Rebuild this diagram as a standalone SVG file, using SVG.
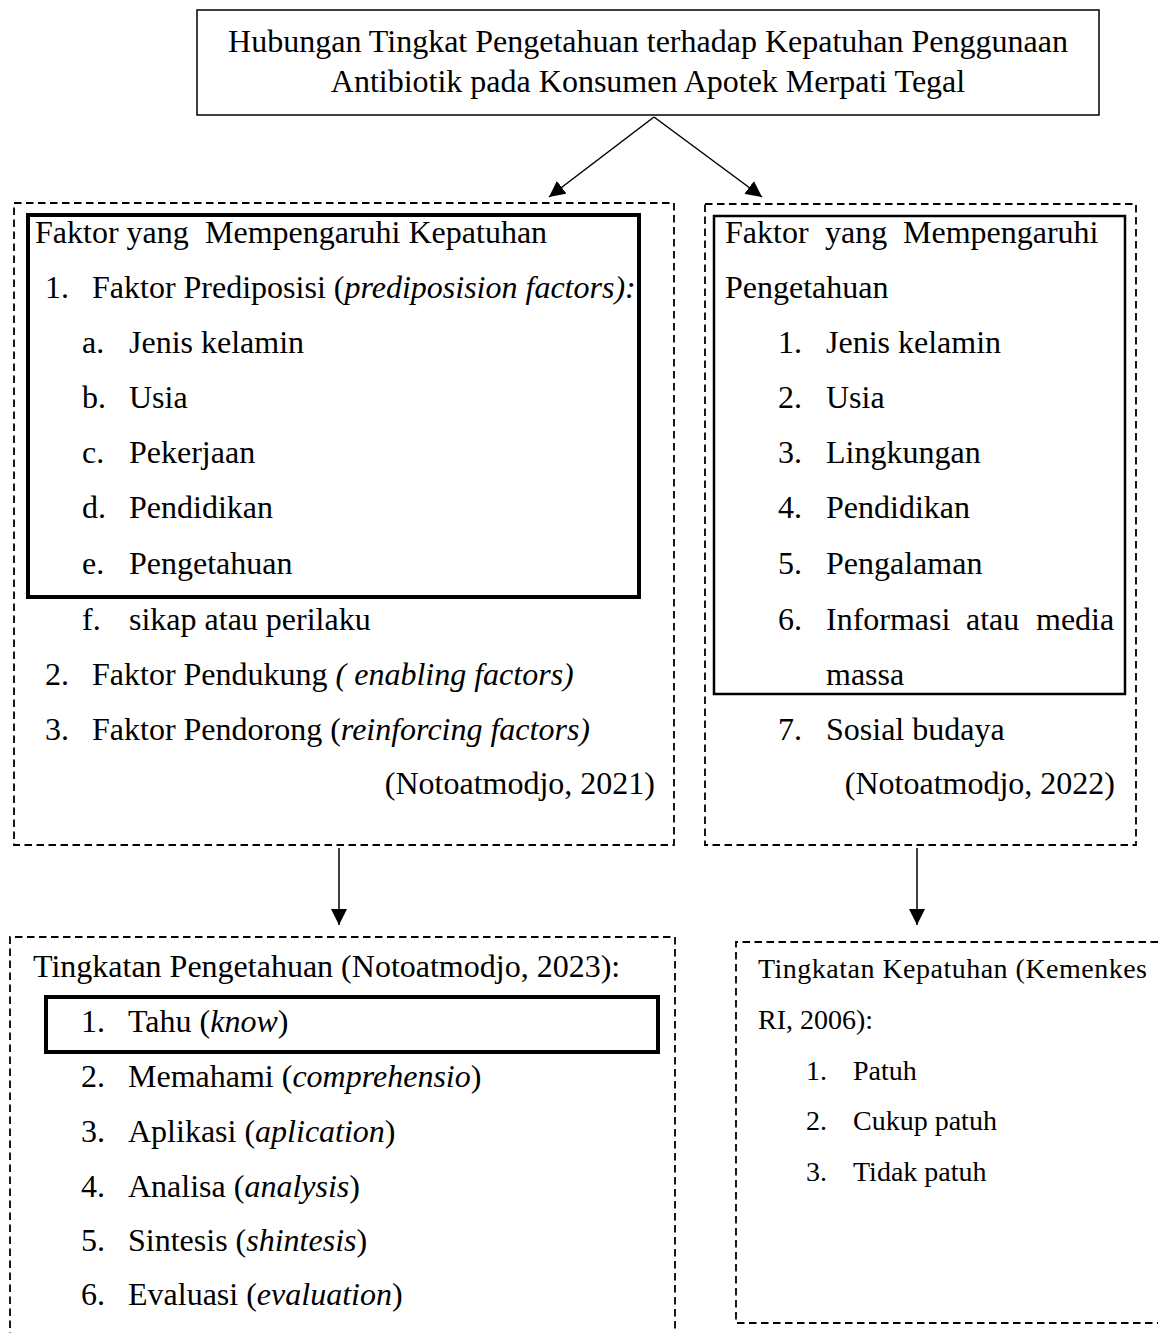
<svg xmlns="http://www.w3.org/2000/svg" width="1158" height="1333" viewBox="0 0 1158 1333">
<style>
text{font-family:"Liberation Serif","Times New Roman",serif;fill:#000}
.t{font-size:32px}
.s{font-size:28px}
.i{font-style:italic}
.solid{fill:none;stroke:#000}
.dash{fill:none;stroke:#000;stroke-width:1.8;stroke-dasharray:7.5 4.5}
.con{fill:none;stroke:#000;stroke-width:1.5}
</style>
<defs>
<marker id="ah2" viewBox="0 0 10 10" refX="10" refY="5" markerWidth="16" markerHeight="16" markerUnits="userSpaceOnUse" orient="auto">
<path d="M0,0 L10,5 L0,10 z" fill="#000"/>
</marker>
</defs>

<g id="connectors">
<line class="con" x1="654" y1="117" x2="549" y2="197" marker-end="url(#ah2)"/>
<line class="con" x1="654" y1="117" x2="762" y2="197" marker-end="url(#ah2)"/>
<line class="con" x1="339" y1="848" x2="339" y2="925" marker-end="url(#ah2)"/>
<line class="con" x1="917" y1="848" x2="917" y2="925" marker-end="url(#ah2)"/>
</g>

<g id="title">
<rect class="solid" stroke-width="1.5" x="197" y="10" width="902" height="105"/>
<text class="t" x="648" y="52" text-anchor="middle">Hubungan Tingkat Pengetahuan terhadap Kepatuhan Penggunaan</text>
<text class="t" x="648" y="92" text-anchor="middle">Antibiotik pada Konsumen Apotek Merpati Tegal</text>
</g>

<g id="faktor-kepatuhan">
<rect class="dash" x="14" y="203" width="660" height="642"/>
<rect class="solid" stroke-width="4" x="28" y="215" width="611" height="382"/>
<text class="t" y="243"><tspan x="35">Faktor yang</tspan><tspan x="205">Mempengaruhi Kepatuhan</tspan></text>
<text class="t" x="45" y="298">1.</text>
<text class="t" x="92" y="298">Faktor Prediposisi (<tspan class="i">prediposision factors):</tspan></text>
<text class="t" x="82" y="353">a.</text><text class="t" x="129" y="353">Jenis kelamin</text>
<text class="t" x="82" y="408">b.</text><text class="t" x="129" y="408">Usia</text>
<text class="t" x="82" y="463">c.</text><text class="t" x="129" y="463">Pekerjaan</text>
<text class="t" x="82" y="518">d.</text><text class="t" x="129" y="518">Pendidikan</text>
<text class="t" x="82" y="574">e.</text><text class="t" x="129" y="574">Pengetahuan</text>
<text class="t" x="82" y="630">f.</text><text class="t" x="129" y="630">sikap atau perilaku</text>
<text class="t" x="45" y="685">2.</text>
<text class="t" x="92" y="685">Faktor Pendukung <tspan class="i">( enabling factors)</tspan></text>
<text class="t" x="45" y="740">3.</text>
<text class="t" x="92" y="740">Faktor Pendorong (<tspan class="i">reinforcing factors)</tspan></text>
<text class="t" x="655" y="794" text-anchor="end">(Notoatmodjo, 2021)</text>
</g>

<g id="faktor-pengetahuan">
<rect class="dash" x="705" y="204" width="431" height="641"/>
<rect class="solid" stroke-width="2.5" x="714" y="216" width="411" height="478"/>
<text class="t" y="243"><tspan x="725">Faktor</tspan><tspan x="825">yang</tspan><tspan x="903">Mempengaruhi</tspan></text>
<text class="t" x="725" y="298">Pengetahuan</text>
<text class="t" x="778" y="353">1.</text><text class="t" x="826" y="353">Jenis kelamin</text>
<text class="t" x="778" y="408">2.</text><text class="t" x="826" y="408">Usia</text>
<text class="t" x="778" y="463">3.</text><text class="t" x="826" y="463">Lingkungan</text>
<text class="t" x="778" y="518">4.</text><text class="t" x="826" y="518">Pendidikan</text>
<text class="t" x="778" y="574">5.</text><text class="t" x="826" y="574">Pengalaman</text>
<text class="t" x="778" y="630">6.</text>
<text class="t" y="630"><tspan x="826">Informasi</tspan><tspan x="966">atau</tspan><tspan x="1036">media</tspan></text>
<text class="t" x="826" y="685">massa</text>
<text class="t" x="778" y="740">7.</text><text class="t" x="826" y="740">Sosial budaya</text>
<text class="t" x="1115" y="794" text-anchor="end">(Notoatmodjo, 2022)</text>
</g>

<g id="tingkatan-pengetahuan">
<path class="dash" d="M10,1340 L10,937 L675,937 L675,1340"/>
<rect class="solid" stroke-width="4" x="46" y="997" width="612" height="55"/>
<text class="t" x="33" y="977">Tingkatan Pengetahuan (Notoatmodjo, 2023):</text>
<text class="t" x="81" y="1032">1.</text><text class="t" x="128" y="1032">Tahu (<tspan class="i">know</tspan>)</text>
<text class="t" x="81" y="1087">2.</text><text class="t" x="128" y="1087">Memahami (<tspan class="i">comprehensio</tspan>)</text>
<text class="t" x="81" y="1142">3.</text><text class="t" x="128" y="1142">Aplikasi (<tspan class="i">aplication</tspan>)</text>
<text class="t" x="81" y="1197">4.</text><text class="t" x="128" y="1197">Analisa (<tspan class="i">analysis</tspan>)</text>
<text class="t" x="81" y="1251">5.</text><text class="t" x="128" y="1251">Sintesis (<tspan class="i">shintesis</tspan>)</text>
<text class="t" x="81" y="1305">6.</text><text class="t" x="128" y="1305">Evaluasi (<tspan class="i">evaluation</tspan>)</text>
</g>

<g id="tingkatan-kepatuhan">
<path class="dash" d="M1170,942 L736,942 L736,1323 L1170,1323"/>
<text class="s" x="758" y="978" textLength="389" lengthAdjust="spacing">Tingkatan Kepatuhan (Kemenkes</text>
<text class="s" x="758" y="1029">RI, 2006):</text>
<text class="s" x="806" y="1080">1.</text><text class="s" x="853" y="1080">Patuh</text>
<text class="s" x="806" y="1130">2.</text><text class="s" x="853" y="1130">Cukup patuh</text>
<text class="s" x="806" y="1181">3.</text><text class="s" x="853" y="1181">Tidak patuh</text>
</g>
</svg>
